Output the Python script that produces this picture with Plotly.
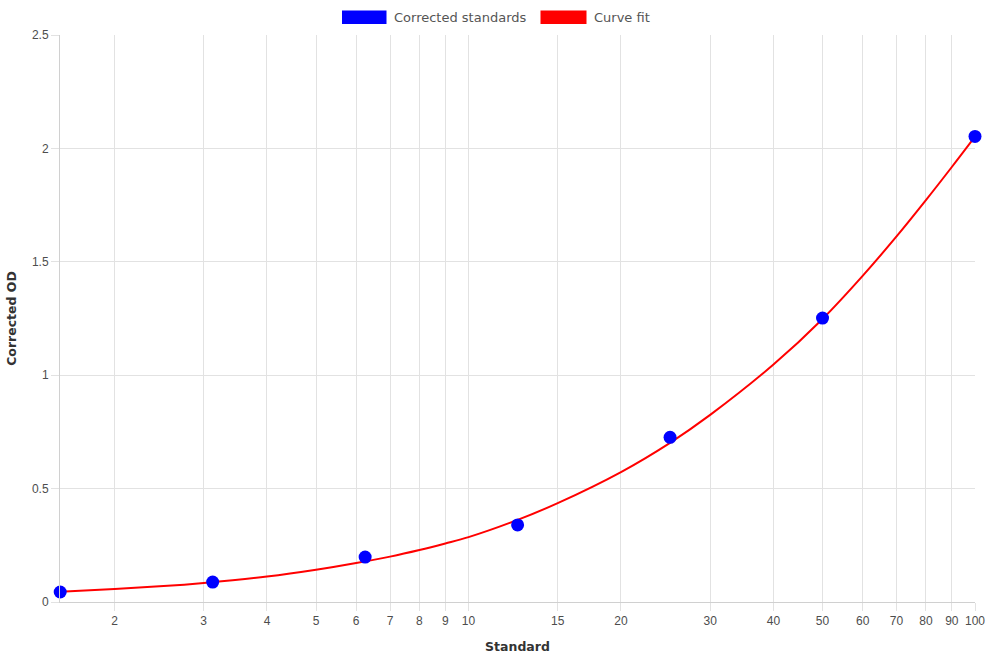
import math
import plotly.graph_objects as go

# Data
std_x = [1.5625, 3.125, 6.25, 12.5, 25, 50, 100]
std_y = [0.044, 0.088, 0.198, 0.340, 0.726, 1.252, 2.053]

fit_x = [1.5625, 2, 2.5, 3, 4, 5, 6, 7, 8, 9, 10, 12.5, 15, 20, 25, 30, 40, 50, 60, 70, 80, 90, 100]
fit_y = [0.045, 0.057, 0.070, 0.084, 0.112, 0.142, 0.172, 0.200, 0.229, 0.258, 0.286, 0.362,
         0.436, 0.573, 0.702, 0.825, 1.047, 1.248, 1.438, 1.612, 1.772, 1.918, 2.052]

x_ticks = [2, 3, 4, 5, 6, 7, 8, 9, 10, 15, 20, 30, 40, 50, 60, 70, 80, 90, 100]
y_ticks = [0, 0.5, 1, 1.5, 2, 2.5]
y_tick_text = ["0", "0.5", "1", "1.5", "2", "2.5"]

series_names = ["Corrected standards", "Curve fit"]
series_colors = ["#0000ff", "#ff0000"]

fig = go.Figure()
fig.add_trace(go.Scatter(x=fit_x, y=fit_y, mode="lines", name=series_names[1],
                         line=dict(color=series_colors[1], width=2, shape="spline", smoothing=1.0),
                         showlegend=False, cliponaxis=False))
fig.add_trace(go.Scatter(x=std_x, y=std_y, mode="markers", name=series_names[0],
                         marker=dict(color=series_colors[0], size=13, line=dict(width=0)),
                         showlegend=False, cliponaxis=False))

grid = "#e2e2e2"
tick_font = dict(family="Liberation Sans, Arial, sans-serif", size=12, color="#4d4d4d")
title_font = dict(family="DejaVu Sans, sans-serif", size=12.5, color="#333333")

fig.update_layout(
    width=990, height=660,
    margin=dict(l=60, r=15, t=35, b=58),
    plot_bgcolor="white", paper_bgcolor="white",
    xaxis=dict(type="log", range=[math.log10(std_x[0]) - 0.0004, math.log10(100)],
               tickvals=x_ticks, ticktext=[str(v) for v in x_ticks],
               showgrid=True, gridcolor=grid, gridwidth=1,
               showline=True, linecolor="#d0d0d0", linewidth=1,
               ticks="outside", ticklen=8, tickcolor=grid, tickfont=tick_font,
               zeroline=False, automargin=False,
               title=dict(text="<b>Standard</b>", font=title_font, standoff=14)),
    yaxis=dict(range=[0, 2.5], tickvals=y_ticks, ticktext=y_tick_text,
               showgrid=True, gridcolor=grid, gridwidth=1,
               showline=True, linecolor="#d0d0d0", linewidth=1,
               ticks="outside", ticklen=8, tickcolor=grid, tickfont=tick_font,
               zeroline=False, automargin=False,
               title=dict(text="<b>Corrected OD</b>", font=title_font, standoff=12)),
    showlegend=False,
)

# Legend drawn as boxes + text at the top centre
legend_items = [(342, 386.5, series_colors[0], series_names[0]),
                (540.5, 586.5, series_colors[1], series_names[1])]
for x0, x1, col, name in legend_items:
    fig.add_shape(type="rect", xref="paper", yref="paper",
                  x0=(x0 - 60) / 915, x1=(x1 - 60) / 915,
                  y0=(602 - 24) / 567, y1=(602 - 10.5) / 567,
                  fillcolor=col, line=dict(color=col, width=0))
    fig.add_annotation(xref="paper", yref="paper", x=(x1 + 5.5 - 60) / 915, y=(602 - 17.3) / 567,
                       text=name, showarrow=False, xanchor="left", yanchor="middle",
                       font=dict(family="DejaVu Sans, sans-serif", size=13, color="#555555"))

fig.write_html("out.html")
